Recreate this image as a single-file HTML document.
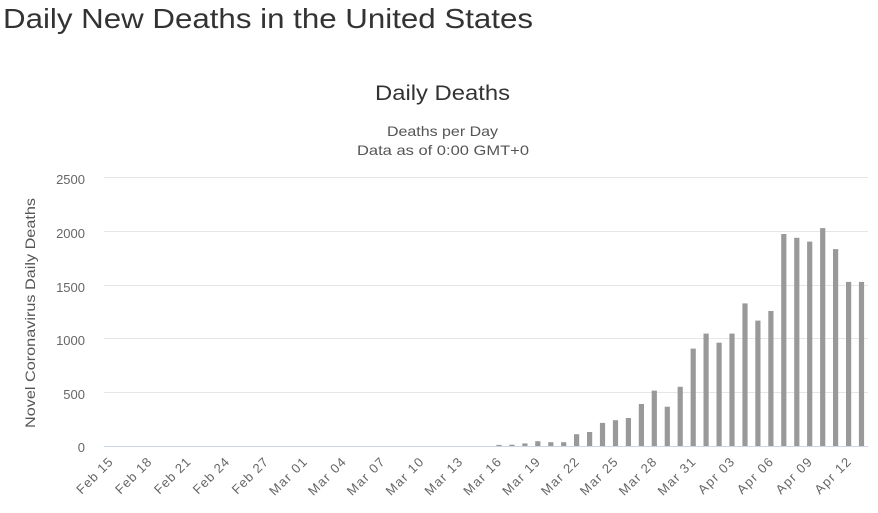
<!DOCTYPE html>
<html><head><style>
body{margin:0;width:878px;height:508px;background:#fff;overflow:hidden;font-family:"Liberation Sans",sans-serif}
</style></head><body>
<svg width="878" height="508" xmlns="http://www.w3.org/2000/svg" font-family="Liberation Sans, sans-serif">
<text x="3" y="28" font-size="28" fill="#333" textLength="530" lengthAdjust="spacingAndGlyphs">Daily New Deaths in the United States</text>
<text x="375" y="100" font-size="21" fill="#333" textLength="135" lengthAdjust="spacingAndGlyphs">Daily Deaths</text>
<text x="387" y="136" font-size="14" fill="#555" textLength="111" lengthAdjust="spacingAndGlyphs">Deaths per Day</text>
<text x="357" y="155" font-size="14" fill="#555" textLength="172" lengthAdjust="spacingAndGlyphs">Data as of 0:00 GMT+0</text>
<text transform="translate(35,428) rotate(-90)" font-size="14" fill="#555" textLength="230" lengthAdjust="spacingAndGlyphs">Novel Coronavirus Daily Deaths</text>
<g stroke="#e6e6e6" stroke-width="1">
<line x1="104" x2="868" y1="177.5" y2="177.5"/><line x1="104" x2="868" y1="231.5" y2="231.5"/>
<line x1="104" x2="868" y1="285.5" y2="285.5"/><line x1="104" x2="868" y1="338.5" y2="338.5"/>
<line x1="104" x2="868" y1="392.5" y2="392.5"/>
</g>
<g font-size="13" fill="#666" text-anchor="end">
<text x="85" y="184">2500</text><text x="85" y="238">2000</text><text x="85" y="292">1500</text>
<text x="85" y="345">1000</text><text x="85" y="399">500</text><text x="85" y="452">0</text>
</g>
<g fill="#999">
<rect x="496.4" width="5.2" y="444.9" height="1.1"/>
<rect x="509.3" width="5.2" y="444.7" height="1.3"/>
<rect x="522.3" width="5.2" y="443.4" height="2.6"/>
<rect x="535.2" width="5.2" y="441.2" height="4.8"/>
<rect x="548.2" width="5.2" y="442.2" height="3.8"/>
<rect x="561.1" width="5.2" y="442.2" height="3.8"/>
<rect x="574.0" width="5.2" y="434.2" height="11.8"/>
<rect x="587.0" width="5.2" y="432.0" height="14.0"/>
<rect x="599.9" width="5.2" y="422.9" height="23.1"/>
<rect x="612.9" width="5.2" y="420.2" height="25.8"/>
<rect x="625.8" width="5.2" y="418.0" height="28.0"/>
<rect x="638.8" width="5.2" y="404.0" height="42.0"/>
<rect x="651.7" width="5.2" y="390.6" height="55.4"/>
<rect x="664.7" width="5.2" y="406.7" height="39.3"/>
<rect x="677.6" width="5.2" y="386.8" height="59.2"/>
<rect x="690.6" width="5.2" y="348.6" height="97.4"/>
<rect x="703.5" width="5.2" y="333.6" height="112.4"/>
<rect x="716.5" width="5.2" y="342.7" height="103.3"/>
<rect x="729.4" width="5.2" y="333.6" height="112.4"/>
<rect x="742.4" width="5.2" y="303.4" height="142.6"/>
<rect x="755.3" width="5.2" y="320.6" height="125.4"/>
<rect x="768.3" width="5.2" y="311.0" height="135.0"/>
<rect x="781.2" width="5.2" y="234.0" height="212.0"/>
<rect x="794.2" width="5.2" y="237.8" height="208.2"/>
<rect x="807.1" width="5.2" y="241.6" height="204.4"/>
<rect x="820.1" width="5.2" y="228.1" height="217.9"/>
<rect x="833.0" width="5.2" y="249.1" height="196.9"/>
<rect x="846.0" width="5.2" y="281.9" height="164.1"/>
<rect x="858.9" width="5.2" y="281.9" height="164.1"/>
</g>
<line x1="104" x2="868" y1="446.5" y2="446.5" stroke="#ccd6eb"/>
<g font-size="13" fill="#666" text-anchor="end" lengthAdjust="spacingAndGlyphs">
<text textLength="45" transform="translate(113.5,463) rotate(-45)">Feb 15</text>
<text textLength="45" transform="translate(152.3,463) rotate(-45)">Feb 18</text>
<text textLength="45" transform="translate(191.2,463) rotate(-45)">Feb 21</text>
<text textLength="45" transform="translate(230.0,463) rotate(-45)">Feb 24</text>
<text textLength="45" transform="translate(268.9,463) rotate(-45)">Feb 27</text>
<text textLength="47" transform="translate(307.7,463) rotate(-45)">Mar 01</text>
<text textLength="47" transform="translate(346.6,463) rotate(-45)">Mar 04</text>
<text textLength="47" transform="translate(385.4,463) rotate(-45)">Mar 07</text>
<text textLength="47" transform="translate(424.2,463) rotate(-45)">Mar 10</text>
<text textLength="47" transform="translate(463.1,463) rotate(-45)">Mar 13</text>
<text textLength="47" transform="translate(501.9,463) rotate(-45)">Mar 16</text>
<text textLength="47" transform="translate(540.8,463) rotate(-45)">Mar 19</text>
<text textLength="47" transform="translate(579.6,463) rotate(-45)">Mar 22</text>
<text textLength="47" transform="translate(618.5,463) rotate(-45)">Mar 25</text>
<text textLength="47" transform="translate(657.3,463) rotate(-45)">Mar 28</text>
<text textLength="47" transform="translate(696.2,463) rotate(-45)">Mar 31</text>
<text textLength="45" transform="translate(735.0,463) rotate(-45)">Apr 03</text>
<text textLength="45" transform="translate(773.9,463) rotate(-45)">Apr 06</text>
<text textLength="45" transform="translate(812.7,463) rotate(-45)">Apr 09</text>
<text textLength="45" transform="translate(851.6,463) rotate(-45)">Apr 12</text>
</g>
</svg>
</body></html>
